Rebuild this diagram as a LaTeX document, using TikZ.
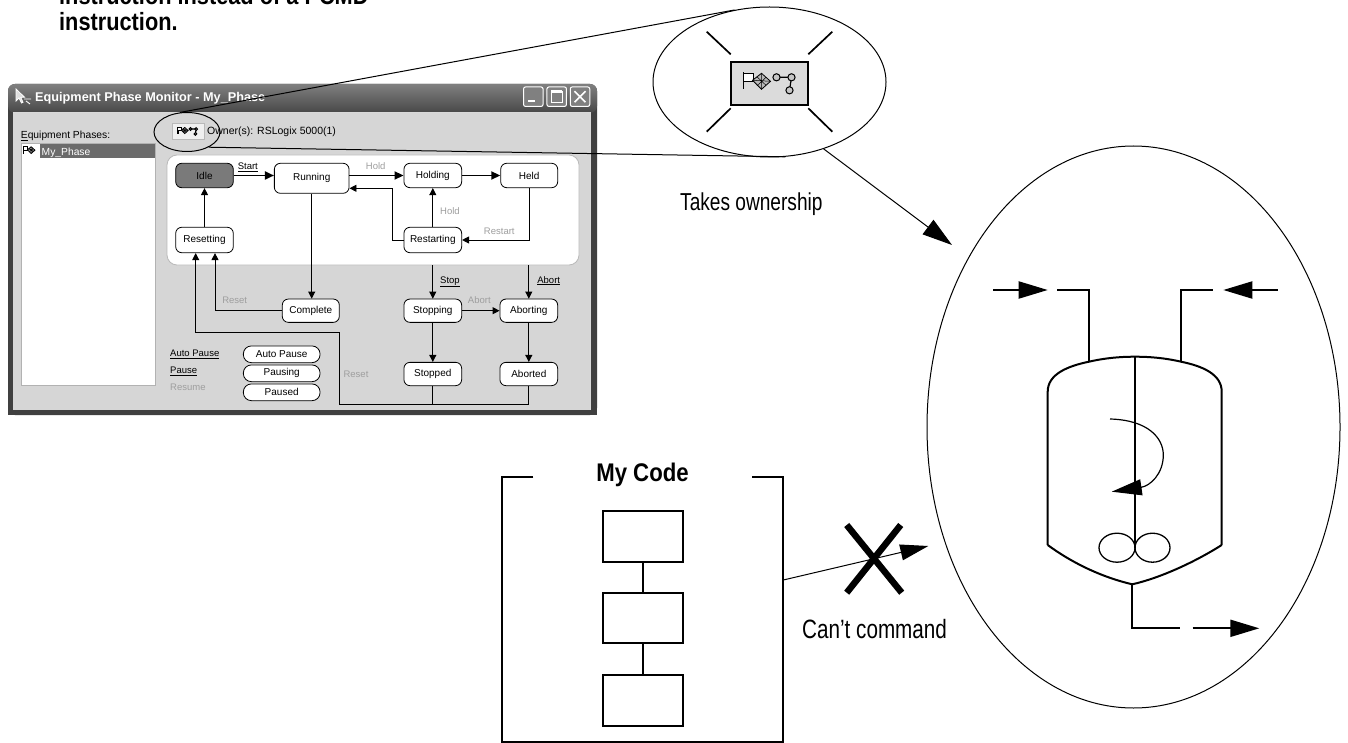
\documentclass[tikz,border=0pt]{standalone}
\usepackage{fontspec}
\setmainfont{Liberation Sans}
\newfontfamily\headfont[FakeStretch=0.87]{Liberation Sans}
\newfontfamily\notefont[FakeStretch=0.78]{Liberation Sans}
\usetikzlibrary{arrows.meta,shapes.geometric,calc}

\definecolor{wingray}{gray}{0.84}
\definecolor{labelgray}{gray}{0.62}
\definecolor{selgray}{gray}{0.42}
\definecolor{idlegray}{gray}{0.48}
\definecolor{titletop}{gray}{0.50}
\definecolor{titlebot}{gray}{0.28}
\definecolor{framegray}{gray}{0.25}
\definecolor{btngray}{gray}{0.50}

\tikzset{
  stbox/.style={draw, line width=0.8pt, rounded corners=6pt, fill=white, inner sep=0pt,
    font=\fontsize{10}{12}\selectfont},
  pill/.style={stbox, rounded corners=8pt, minimum width=76.7pt, minimum height=16.7pt},
  wlabel/.style={inner sep=0pt, anchor=base, font=\fontsize{9.5}{11}\selectfont},
  glabel/.style={wlabel, text=labelgray},
  thickarr/.style={line width=1.8pt, -{Triangle[length=9pt,width=8pt]}},
  thinarr/.style={line width=0.9pt, -{Triangle[length=7pt,width=7pt]}},
  thinline/.style={line width=0.9pt},
  bigarrow/.style={line width=1pt, -{Triangle[length=30pt,width=18pt]}},
  tankline/.style={line width=2pt},
  tankarrow/.style={line width=2pt, -{Triangle[length=29pt,width=17pt]}},
  codebox/.style={draw, line width=2pt, minimum width=80.6pt, minimum height=50.5pt, inner sep=0pt},
  flagicon/.pic={
    \draw[line width=1.4pt] (-26,-11) -- (-26,6);
    \draw[line width=1pt, fill=white] (-26,-10) rectangle (-16,-2);
    \draw[line width=0.8pt, fill=gray!55] (-17,-3) -- (-8,-10) -- (1,-2) -- (-8,6) -- cycle;
    \draw[line width=0.5pt] (-12.5,-6.5) -- (-3.5,2) (-3.5,-6) -- (-12.5,2.5) (-8,-10) -- (-8,6) (-17,-3) -- (1,-2);
  },
  owntree/.pic={
    \draw[line width=1.2pt] (7,-6) -- (22,-6) -- (20,7);
    \draw[line width=1pt, fill=gray!45] (7,-6) circle (3.6) (22,-6) circle (3.6) (20,7) circle (3.6);
  }
}

\begin{document}
\begin{tikzpicture}[x=1pt,y=-1pt]
\useasboundingbox (0,0) rectangle (1348,743);
\clip (0,0) rectangle (1348,743);

% heading, partly above the page edge
\node[inner sep=0pt, anchor=base west, font=\headfont\bfseries\fontsize{25}{30}\selectfont] (hdr1) at (59,4.5) {instruction instead of a PCMD};
\node[inner sep=0pt, anchor=base west, font=\headfont\bfseries\fontsize{25}{30}\selectfont] (hdr2) at (59,30.7) {instruction.};

% ---------- Equipment Phase Monitor window ----------
\fill[framegray, rounded corners=7pt] (8,84) rectangle (597,415);
\fill[framegray] (8,200) rectangle (597,415);
\shade[top color=titletop, bottom color=titlebot, rounded corners=7pt] (8,84) rectangle (597,113);
\fill[wingray] (13,112) rectangle (591,410);
\draw[gray!30, line width=0.6pt] (13,112.5) -- (590.5,112.5) -- (590.5,409.5);

% title icon and text
\draw[white, line width=0.8pt, fill=gray!25] (16,89) -- (16,101) -- (19,98) -- (21.5,103) -- (23,102.3) -- (20.8,97.4) -- (24.5,97.2) -- cycle;
\draw[white, line width=0.9pt] (24,99) -- (31,99) (26,101) -- (30,104);
\node[inner sep=0pt, anchor=base west, text=white, font=\bfseries\fontsize{12.7}{14}\selectfont] (wintitle) at (35,102) {Equipment Phase Monitor - My\_Phase};

% title buttons
\node[draw=white, line width=1pt, fill=btngray, rounded corners=2pt, minimum size=19.5pt, inner sep=0pt] (bmin) at (533.3,96.7) {};
\node[draw=white, line width=1pt, fill=btngray, rounded corners=2pt, minimum size=19.5pt, inner sep=0pt] (bmax) at (556.7,96.7) {};
\node[draw=white, line width=1pt, fill=btngray, rounded corners=2pt, minimum size=19.5pt, inner sep=0pt] (bclose) at (580,96.7) {};
\fill[white] ($(bmin.center)+(-5,3)$) rectangle ($(bmin.center)+(2,5.5)$);
\draw[white, line width=1.2pt] ($(bmax.center)+(-5.5,-5.5)$) rectangle ($(bmax.center)+(5.5,5.5)$);
\draw[white, line width=2.4pt] ($(bmax.center)+(-5.5,-5.2)$) -- ($(bmax.center)+(5.5,-5.2)$);
\draw[white, line width=1.6pt] ($(bclose.center)+(-5.5,-5.5)$) -- ($(bclose.center)+(5.5,5.5)$) ($(bclose.center)+(5.5,-5.5)$) -- ($(bclose.center)+(-5.5,5.5)$);

% phase list
\node[inner sep=0pt, anchor=base west, font=\fontsize{10.3}{12}\selectfont] (phaselbl) at (20.7,138.5) {\underline{E}quipment Phases:};
\node[draw=gray!60, fill=white, line width=0.8pt, minimum width=134pt, minimum height=242pt, inner sep=0pt] (plist) at (88,264) {};
\fill[selgray] (40,144.5) rectangle (154.5,158);
\node[inner sep=0pt, anchor=base west, text=white, font=\fontsize{10.3}{12}\selectfont] (selitem) at (41.5,155.3) {My\_Phase};
\pic[scale=0.42] at (34.5,151) {flagicon};

% owner button
\node[draw=gray!55, fill=gray!12, line width=0.6pt, minimum width=32pt, minimum height=16pt, inner sep=0pt] (ownbtn) at (187.8,131.3) {};
\pic[scale=0.38] at (ownbtn.center) {flagicon};
\pic[scale=0.38] at (ownbtn.center) {owntree};
\node[inner sep=0pt, anchor=base west, font=\fontsize{10.5}{12}\selectfont] (owner) at (207,135) {Owner(s): RSLogix 5000(1)};

% state panel
\node[draw=gray!55, fill=white, line width=0.8pt, rounded corners=10pt, minimum width=412pt, minimum height=110pt, inner sep=0pt] (panel) at (373,210) {};

% states
\node[stbox, fill=idlegray, minimum width=57.6pt, minimum height=24.4pt] (idle) at (204.5,175.5) {Idle};
\node[stbox, minimum width=74.7pt, minimum height=30pt] (running) at (311.7,178.3) {Running};
\node[stbox, minimum width=57.7pt, minimum height=24.4pt] (holding) at (432.8,175.5) {Holding};
\node[stbox, minimum width=57pt, minimum height=24.4pt] (held) at (529.2,175.5) {Held};
\node[stbox, minimum width=57.6pt, minimum height=25.4pt] (resetting) at (204.5,240) {Resetting};
\node[stbox, minimum width=57.7pt, minimum height=25.4pt] (restarting) at (432.8,240) {Restarting};
\node[stbox, minimum width=57pt, minimum height=23.3pt] (complete) at (310.8,310.7) {Complete};
\node[stbox, minimum width=57.7pt, minimum height=23.3pt] (stopping) at (432.8,310.7) {Stopping};
\node[stbox, minimum width=57.7pt, minimum height=23.3pt] (aborting) at (528.8,310.7) {Aborting};
\node[stbox, minimum width=57.7pt, minimum height=23.3pt] (stopped) at (432.8,374) {Stopped};
\node[stbox, minimum width=57.7pt, minimum height=23.3pt] (aborted) at (528.8,374) {Aborted};
\node[pill] (autopause) at (281.7,354.3) {Auto Pause};
\node[pill] (pausing) at (281.7,373.3) {Pausing};
\node[pill] (paused) at (281.7,392.3) {Paused};

% transitions
\draw[thickarr] (idle.east) -- (idle.east -| running.west);
\draw[thickarr] (running.east |- holding.west) -- (holding.west);
\draw[thickarr] (holding.east) -- (held.west);
\draw[thinarr] (restarting.west) -- ++(-10.7,0) |- ([yshift=-10pt]running.east);
\draw[thinarr] (restarting.north) -- (holding.south);
\draw[thinarr] (held.south) |- (restarting.east);
\draw[thinarr] (resetting.north) -- (idle.south);
\draw[thinarr] (running.south) -- (running.south |- complete.north);
\draw[thinarr] (complete.west) -| ([xshift=10.5pt]resetting.south);
\coordinate (rsA) at (339.3,404);
\coordinate (rsB) at (339.3,332.7);
\draw[thinarr] (aborted.south) |- (rsA) -- (rsB) -| ([xshift=-8.8pt]resetting.south);
\draw[thinline] (stopped.south) -- (stopped.south |- rsA);
\draw[thinarr] (stopping.north |- panel.south) -- (stopping.north);
\draw[thinarr] (aborting.north |- panel.south) -- (aborting.north);
\draw[thinarr] (stopping.east) -- (aborting.west);
\draw[thinarr] (stopping.south) -- (stopped.north);
\draw[thinarr] (aborting.south) -- (aborted.north);

% transition labels
\node[wlabel] (lstart) at (247.8,169.5) {\underline{Start}};
\node[glabel] (lhold1) at (375.7,169.3) {Hold};
\node[glabel] (lhold2) at (450,215) {Hold};
\node[glabel] (lrestart) at (499.3,235) {Restart};
\node[glabel] (lreset1) at (234.7,303.3) {Reset};
\node[glabel] (lreset2) at (356,377.3) {Reset};
\node[wlabel] (lstop) at (450,283) {\underline{Stop}};
\node[wlabel] (labort1) at (548.7,283) {\underline{Abort}};
\node[glabel] (labort2) at (479.3,303) {Abort};
\node[wlabel, anchor=base west] (lapause) at (170,356.7) {\underline{Auto Pause}};
\node[wlabel, anchor=base west] (lpause) at (170,373.3) {\underline{Pause}};
\node[glabel, anchor=base west] (lresume) at (170,390) {Resume};

% ---------- magnified ownership button ----------
\node[draw, ellipse, line width=1pt, minimum width=66pt, minimum height=39pt, inner sep=0pt] (zoomsrc) at (187,132) {};
\node[draw, ellipse, line width=1pt, minimum width=233pt, minimum height=150pt, inner sep=0pt] (zoomview) at (769.5,82) {};
\draw[line width=1pt] (zoomsrc.110) -- (zoomview.116);
\draw[line width=1pt] (zoomsrc.-35) -- (zoomview.-78);

\node[draw, line width=2pt, fill=gray!28, minimum width=77.6pt, minimum height=43.3pt, inner sep=0pt] (bigbtn) at (769.5,83.3) {};
\pic at (bigbtn.center) {flagicon};
\pic at (bigbtn.center) {owntree};
\draw[line width=1.7pt] (706.7,31.7) -- (730.7,54.3);
\draw[line width=1.7pt] (832.3,31.7) -- (808.3,54.3);
\draw[line width=1.7pt] (730.7,108.3) -- (706.7,131.7);
\draw[line width=1.7pt] (808.3,108.3) -- (832.3,131.7);

\node[inner sep=0pt, anchor=base west, font=\notefont\fontsize{24.5}{28}\selectfont] (takes) at (680,211) {Takes ownership};

% ---------- process unit ----------
\node[draw, ellipse, line width=1pt, minimum width=413pt, minimum height=562pt, inner sep=0pt] (plant) at (1133.5,427) {};
\coordinate (ownTip) at (952,245);
\draw[bigarrow] (zoomview.-51) -- (ownTip);

% vessel
\draw[tankline] (1047.7,545) -- (1047.7,391.7)
  .. controls (1047.7,374) and (1068,366) .. (1089,361.7)
  .. controls (1105,358) and (1120,356.7) .. (1135,356.7)
  .. controls (1150,356.7) and (1165,358) .. (1181,361.7)
  .. controls (1202,366) and (1221.7,374) .. (1221.7,391.7) -- (1221.7,545);
\draw[tankline] (1047.7,545) .. controls (1075,565) and (1105,578) .. (1132.3,584.3)
  .. controls (1160,578) and (1195,562) .. (1221.7,545);
% agitator
\draw[tankline] (1135,356.7) -- (1135,548.3);
\draw[line width=1.3pt] (1117,547.7) ellipse [x radius=18, y radius=14.5];
\draw[line width=1.3pt] (1152.5,547.7) ellipse [x radius=17.5, y radius=14.5];
\draw[line width=1.2pt, -{Triangle[length=30pt,width=16pt]}] (1110,419)
  .. controls (1148,420) and (1163.3,438) .. (1163.3,455)
  .. controls (1163.3,474) and (1150,486) .. (1111.7,491.7);
% inlets and outlet
\draw[tankline] (1089,361.7) -- (1089,290) -- (1057.3,290);
\draw[tankarrow] (993.3,290) -- (1047.7,290);
\draw[tankline] (1181,361.7) -- (1181,290) -- (1212.7,290);
\draw[tankarrow] (1277.7,290) -- (1223.3,290);
\draw[tankline] (1132.3,584.3) -- (1132.3,628.3) -- (1180,628.3);
\draw[tankarrow] (1192.7,628.3) -- (1259.3,628.3);

% ---------- user code ----------
\draw[tankline] (533.3,476.7) -- (502.3,476.7) -- (502.3,742) -- (783.3,742) -- (783.3,476.7) -- (751.7,476.7);
\node[inner sep=0pt, anchor=base, font=\headfont\bfseries\fontsize{25.5}{30}\selectfont] (mycode) at (642.5,481.7) {My Code};
\node[codebox] (cb1) at (643,536.7) {};
\node[codebox] (cb2) at (643,618) {};
\node[codebox] (cb3) at (643,700.3) {};
\draw[tankline] (cb1.south) -- (cb2.north);
\draw[tankline] (cb2.south) -- (cb3.north);

\coordinate (codeR) at (783.3,580);
\coordinate (cmdTip) at (928.3,546);
\draw[line width=1pt, -{Triangle[length=28pt,width=16pt]}] (codeR) -- (cmdTip);
\draw[line width=6.5pt] (846.7,525) -- (901.7,592.7);
\draw[line width=6.5pt] (900.7,525) -- (846.7,592.7);
\node[inner sep=0pt, anchor=base west, font=\notefont\fontsize{26.5}{30}\selectfont] (cantcmd) at (802,638.3) {Can’t command};
\end{tikzpicture}
\end{document}
